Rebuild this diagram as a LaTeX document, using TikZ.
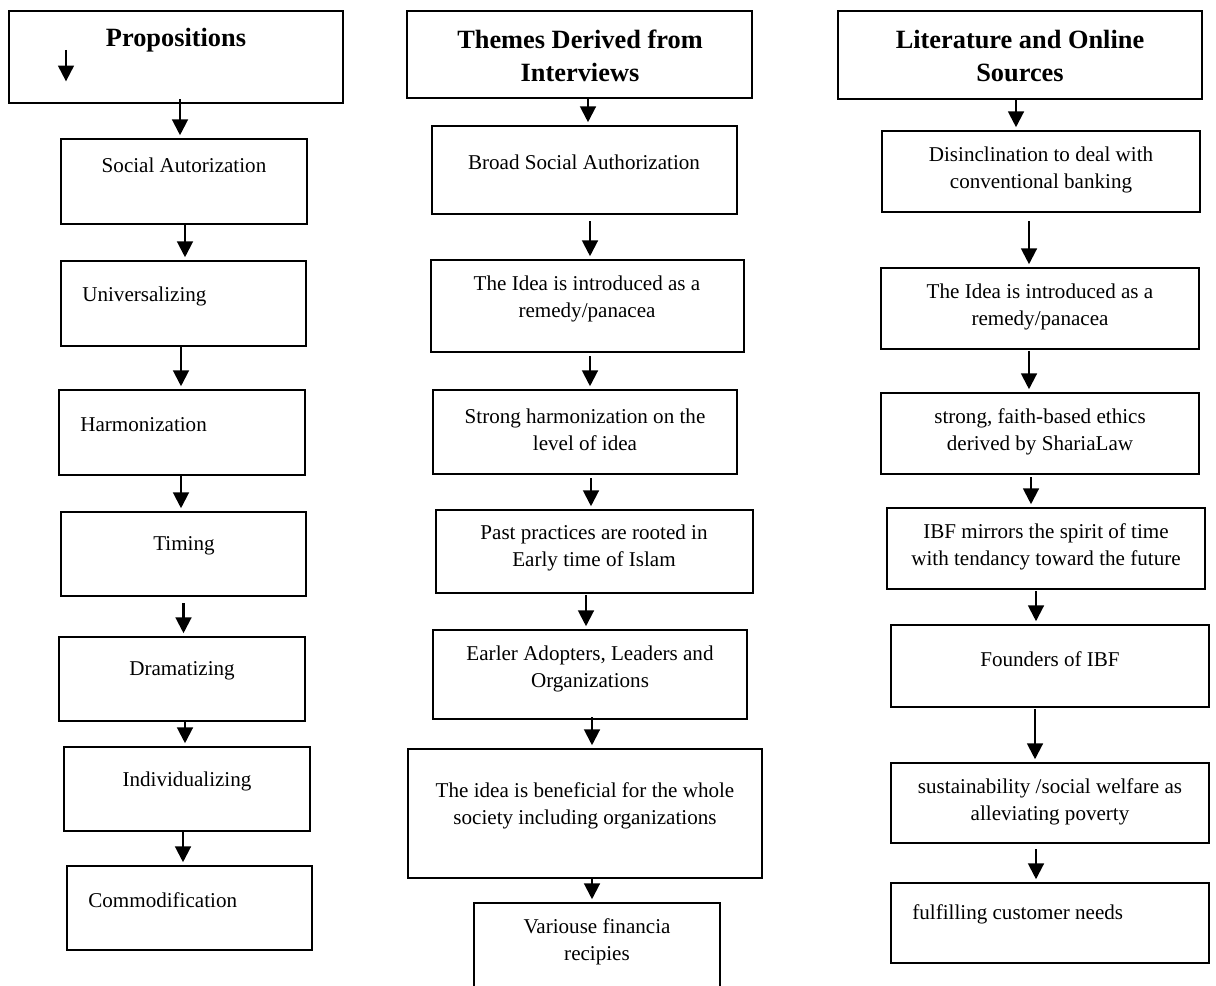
\documentclass[tikz,border=0pt]{standalone}
\usepackage{fontspec}
\setmainfont{Liberation Serif}
\usepackage{tikz}
\usetikzlibrary{arrows.meta,positioning,fit}

\tikzset{
  box/.style={draw, line width=1.3pt, inner sep=0pt, fit={#1}},
  txt/.style={font=\fontsize{12}{15.3}\selectfont, align=center, inner sep=0pt},
  ttl/.style={font=\fontsize{15}{18.7}\selectfont\bfseries, align=center, inner sep=0pt},
  arr/.style={line width=1.2pt, -{Triangle[width=9pt,length=9pt]}, shorten >=1.5pt}
}

\begin{document}
\begin{tikzpicture}[x=0.02cm, y=-0.02cm]
    \useasboundingbox (0,0) rectangle (1216,986);

    % Column 1: propositions
    \node[box={(9,11) (343,103)}] (p0) {};
    \node[ttl] (p0t) at (176,40) {Propositions};
    \coordinate (pa) at (66,50);
    \coordinate (pb) at (66,84);
    \draw[arr] (pa) -- (pb);
    \node[box={(61,139) (307,224)}] (p1) {};
    \node[txt] (p1t) at (184,165) {Social Autorization};
    \node[box={(61,261) (306,346)}] (p2) {};
    \node[txt, anchor=west] (p2t) at (82,296) {Universalizing};
    \node[box={(59,390) (305,475)}] (p3) {};
    \node[txt, anchor=west] (p3t) at (80,425) {Harmonization};
    \node[box={(61,512) (306,596)}] (p4) {};
    \node[txt] (p4t) at (184,546) {Timing};
    \node[box={(59,637) (305,721)}] (p5) {};
    \node[txt] (p5t) at (182,671) {Dramatizing};
    \node[box={(64,747) (310,831)}] (p6) {};
    \node[txt] (p6t) at (187,781) {Individualizing};
    \node[box={(67,866) (312,950)}] (p7) {};
    \node[txt, anchor=west] (p7t) at (88,900) {Commodification};

    % Column 2: themes from interviews
    \node[box={(407,11) (752,98)}] (i0) {};
    \node[ttl] (i0t) at (580,56) {Themes Derived from\\Interviews};
    \node[box={(432,126) (737,214)}] (i1) {};
    \node[txt] (i1t) at (584,162) {Broad Social Authorization};
    \node[box={(431,260) (744,352)}] (i2) {};
    \node[txt] (i2t) at (587,299) {The Idea is introduced as a\\remedy/panacea};
    \node[box={(433,390) (737,474)}] (i3) {};
    \node[txt] (i3t) at (585,430) {Strong harmonization on the\\level of idea};
    \node[box={(436,510) (753,593)}] (i4) {};
    \node[txt] (i4t) at (594,548) {Past practices are rooted in\\Early time of Islam};
    \node[box={(433,630) (747,719)}] (i5) {};
    \node[txt] (i5t) at (590,669) {Earler Adopters, Leaders and\\Organizations};
    \node[box={(408,749) (762,878)}] (i6) {};
    \node[txt] (i6t) at (585,806) {The idea is beneficial for the whole\\society including organizations};
    \node[box={(474,903) (720,992)}] (i7) {};
    \node[txt] (i7t) at (597,942) {Variouse financia\\recipies};

    % Column 3: literature and online sources
    \node[box={(838,11) (1202,99)}] (l0) {};
    \node[ttl] (l0t) at (1020,56) {Literature and Online\\Sources};
    \node[box={(882,131) (1200,212)}] (l1) {};
    \node[txt] (l1t) at (1041,170) {Disinclination to deal with\\conventional banking};
    \node[box={(881,268) (1199,349)}] (l2) {};
    \node[txt] (l2t) at (1040,307) {The Idea is introduced as a\\remedy/panacea};
    \node[box={(881,393) (1199,474)}] (l3) {};
    \node[txt] (l3t) at (1040,432) {strong, faith-based ethics\\derived by ShariaLaw};
    \node[box={(887,508) (1205,589)}] (l4) {};
    \node[txt] (l4t) at (1046,547) {IBF mirrors the spirit of time\\with tendancy toward the future};
    \node[box={(891,625) (1209,707)}] (l5) {};
    \node[txt] (l5t) at (1050,659) {Founders of IBF};
    \node[box={(891,763) (1209,843)}] (l6) {};
    \node[txt] (l6t) at (1050,802) {sustainability /social welfare as\\alleviating poverty};
    \node[box={(891,883) (1209,963)}] (l7) {};
    \node[txt, anchor=west] (l7t) at (912,914) {fulfilling customer needs};

    % Arrows (from/to/x offset mm/start gap mm)
    \foreach \a/\b/\dx/\gy in {p0/p1/0.8/-1, p1/p2/0.2/0, p2/p3/-0.5/0, p3/p4/-0.2/0,
        p4/p5/0/1.2, p5/p6/0.6/0, p6/p7/-0.8/0,
        i0/i1/1.7/0, i1/i2/1.1/1.2, i2/i3/0.5/0.6, i3/i4/1.2/0.6,
        i4/i5/-1.7/0.2, i5/i6/0.4/-0.6, i6/i7/1.4/0,
        l0/l1/-0.8/0, l1/l2/-2.4/1.6, l2/l3/-2.2/0.2, l3/l4/-1.8/0.4,
        l4/l5/-2/0.2, l5/l6/-3/0.2, l6/l7/-2.8/1} {
        \draw[arr] ([xshift=\dx mm, yshift=-\gy mm]\a.south) coordinate (tmp) -- (tmp |- \b.north);
    }
\end{tikzpicture}
\end{document}
